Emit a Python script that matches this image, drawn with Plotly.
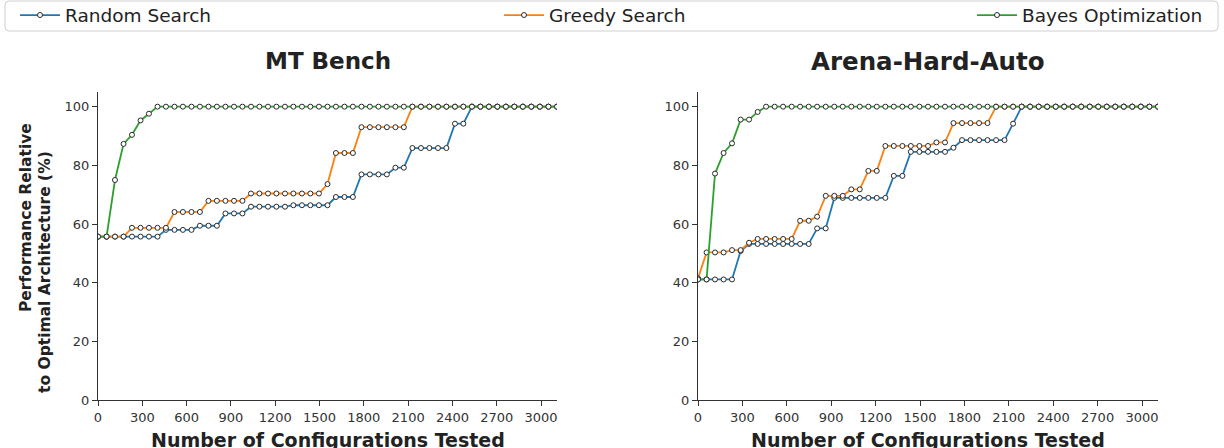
import plotly.graph_objects as go

# ---- data ----
configs = [0, 58, 115, 173, 230, 288, 345, 403, 460, 518, 575, 633, 690, 748, 805,
           863, 921, 978, 1036, 1093, 1151, 1208, 1266, 1323, 1381, 1438, 1496, 1554,
           1611, 1669, 1726, 1784, 1841, 1899, 1956, 2014, 2071, 2129, 2187, 2244, 2302,
           2359, 2417, 2474, 2532, 2589, 2647, 2704, 2762, 2819, 2877, 2934, 2992, 3050, 3108]

mt_random = ([55.7] * 8 + [58.0] * 4 + [59.4] * 3 + [63.6] * 3 + [65.9] * 5 + [66.4] * 5
             + [69.2] * 3 + [76.9] * 4 + [79.2] * 2 + [85.9] * 5 + [94.2] * 2 + [100] * 11)
mt_greedy = ([55.7] * 4 + [58.7] * 5 + [64.1] * 4 + [67.9] * 5 + [70.4] * 9 + [73.6]
             + [84.2] * 3 + [93.0] * 6 + [100] * 18)
mt_bayes = [55.7, 55.7, 75.0, 87.3, 90.4, 95.3, 97.6] + [100] * 48

ah_random = ([41.1] * 5 + [50.8] + [53.2] * 8 + [58.5] * 2 + [68.9] * 7 + [76.4] * 2
             + [84.6] * 5 + [86.0] + [88.6] * 6 + [94.2] + [100] * 17)
ah_greedy = ([41.5] + [50.3] * 3 + [51.1] * 2 + [53.6] + [54.9] * 5 + [61.1] * 2 + [62.5]
             + [69.6] * 3 + [71.8] * 2 + [78.1] * 2 + [86.6] * 6 + [87.8] * 2 + [94.4] * 5
             + [100] * 20)
ah_bayes = [41.1, 41.1, 77.2, 84.2, 87.5, 95.6, 95.6, 98.2] + [100] * 47

series_names = ["Random Search", "Greedy Search", "Bayes Optimization"]
colors = ["#1f77b4", "#ff7f0e", "#2ca02c"]
titles = ["MT Bench", "Arena-Hard-Auto"]
y_title_lines = ["Performance Relative", "to Optimal Architecture (%)"]
x_ticks = [0, 300, 600, 900, 1200, 1500, 1800, 2100, 2400, 2700, 3000]
y_ticks = [0, 20, 40, 60, 80, 100]

# ---- figure ----
W, H = 1224, 448
ML, MR, MT, MB = 98, 66, 92, 48
PW, PH = W - ML - MR, H - MT - MB

def px_x(p):
    return (p - ML) / PW

def px_y(p):
    return (H - MB - p) / PH

FONT = "DejaVu Sans"
fig = go.Figure()

panels = [("x", "y", [mt_random, mt_greedy, mt_bayes]),
          ("x2", "y2", [ah_random, ah_greedy, ah_bayes])]
legends = ["legend", "legend2", "legend3"]
for pi, (xa, ya, data) in enumerate(panels):
    for si, vals in enumerate(data):
        fig.add_trace(go.Scatter(
            x=configs, y=vals, mode="lines+markers", name=series_names[si],
            xaxis=xa, yaxis=ya,
            line=dict(color=colors[si], width=1.8),
            marker=dict(size=5, color="white", line=dict(color="#2a2a2a", width=1)),
            showlegend=(pi == 0), legend=legends[si],
        ))

axis_common = dict(showgrid=False, zeroline=False, showline=True, linecolor="#333333",
                   linewidth=1, ticks="outside", ticklen=5, tickcolor="#333333",
                   tickfont=dict(family=FONT, size=13, color="#333333"))
fig.update_layout(
    width=W, height=H, plot_bgcolor="white", paper_bgcolor="white",
    margin=dict(l=ML, r=MR, t=MT, b=MB, autoexpand=False),
    xaxis=dict(domain=[0, px_x(557)], range=[0, 3108], tickvals=x_ticks, anchor="y", **axis_common),
    yaxis=dict(domain=[0, 1], range=[0, 105], tickvals=y_ticks, anchor="x", **axis_common),
    xaxis2=dict(domain=[px_x(698), 1], range=[0, 3108], tickvals=x_ticks, anchor="y2", **axis_common),
    yaxis2=dict(domain=[0, 1], range=[0, 105], tickvals=y_ticks, anchor="x2", **axis_common),
)

leg_text_x = [66, 550, 1023]
for li, lg in enumerate(legends):
    fig.update_layout({lg: dict(xref="container", yref="container",
                                x=(leg_text_x[li] - 51) / W, y=1 - 15.5 / H,
                                xanchor="left", yanchor="middle",
                                orientation="h", bgcolor="rgba(0,0,0,0)", borderwidth=0,
                                font=dict(family=FONT, size=18.5, color="#222222"),
                                itemwidth=40)})

# legend frame with rounded corners
x0, x1, y0, y1 = px_x(5), px_x(1218), px_y(31), px_y(1)
rx, ry = 4 / PW, 4 / PH
path = (f"M {x0+rx},{y1} L {x1-rx},{y1} Q {x1},{y1} {x1},{y1-ry} L {x1},{y0+ry} "
        f"Q {x1},{y0} {x1-rx},{y0} L {x0+rx},{y0} Q {x0},{y0} {x0},{y0+ry} "
        f"L {x0},{y1-ry} Q {x0},{y1} {x0+rx},{y1} Z")
fig.add_shape(type="path", path=path, xref="paper", yref="paper",
              line=dict(color="#d0d0d0", width=1), fillcolor="rgba(0,0,0,0)")

centers = [(98 + 557) / 2, (698 + 1158) / 2]
title_sizes = [23, 24.5]
for ci, c in enumerate(centers):
    fig.add_annotation(text=f"<b>{titles[ci]}</b>", x=px_x(c), y=px_y(61), xref="paper", yref="paper",
                       showarrow=False, xanchor="center", yanchor="middle",
                       font=dict(family=FONT, size=title_sizes[ci], color="#222222"))
    fig.add_annotation(text="<b>Number of Configurations Tested</b>", x=px_x(c), y=px_y(440),
                       xref="paper", yref="paper", showarrow=False, xanchor="center", yanchor="middle",
                       font=dict(family=FONT, size=19, color="#222222"))

# y-axis title, two rotated lines
y_title_pos = [(26, 218), (45, 272)]
for (lx, ly), txt in zip(y_title_pos, y_title_lines):
    fig.add_annotation(text=f"<b>{txt}</b>", x=px_x(lx), y=px_y(ly), xref="paper", yref="paper",
                       showarrow=False, textangle=-90, xanchor="center", yanchor="middle",
                       font=dict(family=FONT, size=15.5, color="#222222"))

fig.write_html("out.html", config={"displayModeBar": False},
               post_script="document.body.style.margin='0px';")
